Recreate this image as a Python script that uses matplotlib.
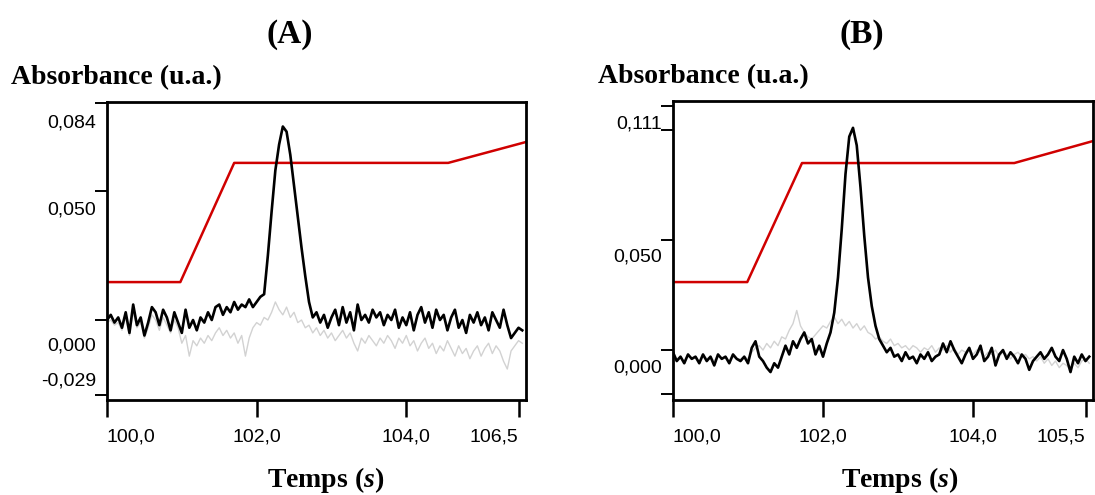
import numpy as np
import matplotlib
matplotlib.use("Agg")
import matplotlib.pyplot as plt
from matplotlib.transforms import offset_copy

# absorbance traces in thousandths (u.a. x 1000), one sample every 0.05 s from 100,0 s
a_black = [
    0, 2, -1, 1, -3, 3, -5, 6, -2, 1,
    -6, -1, 5, 3, -2, 4, 1, -4, 3, -1,
    -5, 4, -3, 0, -4, 1, -1, 3, 0, 5,
    6, 2, 5, 3, 7, 4, 6, 5, 8, 5,
    7, 9, 10, 25, 42, 58, 68, 75, 73, 64,
    52, 40, 28, 17, 7, 1, 3, -1, 2, -3,
    1, 4, -2, 5, -1, 3, -4, 6, 0, 2,
    -1, 4, 1, 3, -2, 2, 0, 4, -3, 1,
    -2, 3, -4, 2, 5, -1, 3, -3, 4, 0,
    2, -4, 1, 4, -3, 0, -5, 2, -1, 3,
    -2, 1, -4, 3, 0, -3, 4, -2, -7, -5,
    -3, -4]
a_gray = [
    -1, 0, -2, -1, -4, 1, -6, 3, -3, -1,
    -7, -3, 2, 0, -4, 1, -2, -5, 0, -3,
    -9, -6, -14, -8, -10, -7, -9, -6, -8, -5,
    -3, -6, -4, -7, -5, -9, -6, -14, -7, -3,
    -1, -2, 1, 0, 3, 7, 4, 2, 5, 1,
    3, -1, 0, -3, -2, -5, -3, -6, -4, -7,
    -5, -8, -6, -4, -7, -5, -9, -12, -7, -9,
    -6, -8, -10, -7, -9, -6, -8, -11, -7, -9,
    -6, -10, -8, -12, -9, -7, -11, -9, -13, -10,
    -12, -8, -11, -14, -10, -13, -11, -15, -12, -10,
    -14, -11, -9, -13, -10, -12, -16, -19, -12, -10,
    -8, -9]
b_black = [
    -1, -5, -3, -6, -2, -4, -3, -6, -2, -5,
    -3, -7, -2, -4, -3, -6, -2, -4, -5, -3,
    -6, 1, 4, -3, -5, -8, -10, -6, -8, -3,
    2, -2, 4, 1, 5, 8, 3, 5, -2, 2,
    -3, 3, 8, 17, 33, 55, 80, 97, 101, 93,
    74, 52, 33, 20, 11, 5, 2, -1, 1, -3,
    -2, -5, -1, -4, -3, -6, -2, -4, -1, -5,
    -3, -2, 3, -1, 4, 0, -3, -6, -2, 1,
    -4, -2, 2, -5, -3, 1, -7, -2, 0, -4,
    -1, -3, -6, -2, -4, -9, -5, -3, -1, -4,
    -2, 1, -3, -5, 0, -4, -10, -3, -6, -2,
    -5, -3]
b_gray = [
    -2, -4, -3, -5, -2, -4, -3, -5, -2, -4,
    -3, -5, -2, -4, -3, -5, -3, -4, -4, -3,
    -4, -1, 1, 2, 0, 3, 1, 4, 2, 6,
    5, 9, 12, 18, 11, 8, 6, 5, 7, 9,
    11, 10, 13, 15, 12, 14, 11, 13, 10, 12,
    9, 11, 8, 7, 5, 6, 4, 3, 5, 2,
    3, 1, 2, 0, 2, 1, -1, 1, 0, 2,
    -1, 1, 0, 2, -1, 1, -2, 0, -1, 1,
    -2, 0, -1, -3, -1, -2, 0, -3, -1, -2,
    -4, -2, -1, -3, -2, -4, -3, -5, -3, -6,
    -4, -7, -5, -8, -6, -7, -9, -6, -8, -5,
    -4, -6]

# red temperature program (break points)
a_red_t = [100.0, 100.98, 101.70, 104.56, 105.6]
a_red_y = [0.0147, 0.0147, 0.0609, 0.0609, 0.069]
b_red_t = [100.0, 100.99, 101.72, 104.55, 105.6]
b_red_y = [0.0309, 0.0309, 0.085, 0.085, 0.095]

x_ticks = [100.0, 102.0, 104.0, 105.5]
a_xlabels = ["100,0", "102,0", "104,0", "106,5"]
b_xlabels = ["100,0", "102,0", "104,0", "105,5"]
a_yticks = [0.084, 0.050, 0.000, -0.029]
a_ylabels = ["0,084", "0,050", "0,000", "-0,029"]
b_yticks = [0.111, 0.100, 0.050, 0.000, -0.020]
b_ylabels = ["0,111", "", "0,050", "0,000", ""]

plt.rcParams['mathtext.fontset'] = 'custom'
plt.rcParams['mathtext.rm'] = 'Liberation Serif:bold'
plt.rcParams['mathtext.it'] = 'Liberation Serif:italic:bold'

W, H = 1095, 495
fig = plt.figure(figsize=(W / 100, H / 100), dpi=100)
tick_font = dict(family=['Liberation Sans', 'DejaVu Sans'], fontsize=14)
serif = ['Liberation Serif', 'DejaVu Serif']


def panel(box, black, gray, red_t, red_y, ylim, yticks, ylabels, ydy, xlabels):
    l, t, r, b = box
    ax = fig.add_axes([l / W, 1 - b / H, (r - l) / W, (b - t) / H])
    tb = 100 + 0.05 * np.arange(len(black))
    tg = 100 + 0.05 * np.arange(len(gray))
    ax.plot(tg, np.array(gray) / 1000, color='#d2d2d2', lw=1.0, zorder=1)
    ax.plot(red_t, red_y, color='#d00000', lw=1.8, zorder=2)
    ax.plot(tb, np.array(black) / 1000, color='black', lw=1.9, zorder=3)
    ax.set_xlim(100, 105.6)
    ax.set_ylim(*ylim)
    for s in ax.spines.values():
        s.set_linewidth(2)
    ax.set_xticks(x_ticks)
    ax.set_yticks(yticks)
    ax.tick_params(axis='y', direction='out', length=8.5, width=1.4, labelleft=False)
    ax.tick_params(axis='x', direction='out', length=12, width=1.8, labelbottom=False)
    for v, lab, dy in zip(yticks, ylabels, ydy):
        tr = offset_copy(ax.get_yaxis_transform(), fig=fig, x=-8, y=dy, units='points')
        ax.text(0, v, lab, transform=tr, ha='right', va='center', **tick_font)
    has = ['left', 'center', 'center', 'right']
    for v, lab, ha in zip(x_ticks, xlabels, has):
        tr = offset_copy(ax.get_xaxis_transform(), fig=fig, y=-27, units='points')
        ax.text(v, 0, lab, transform=tr, ha=ha, va='center', **tick_font)
    return ax


panel((107, 102, 526, 400), a_black, a_gray, a_red_t, a_red_y,
      (-0.031, 0.0845), a_yticks, a_ylabels, [-14, -14, -19, 10], a_xlabels)
panel((673, 101, 1093, 400), b_black, b_gray, b_red_t, b_red_y,
      (-0.0227, 0.1132), b_yticks, b_ylabels, [-13, 0, -12, -13, 0], b_xlabels)

fig.text(290 / W, 1 - 35 / H, "(A)", ha='center', va='center',
         family=serif, weight='bold', fontsize=24)
fig.text(862 / W, 1 - 35 / H, "(B)", ha='center', va='center',
         family=serif, weight='bold', fontsize=24)
fig.text(11 / W, 1 - 78 / H, "Absorbance (u.a.)", ha='left', va='center',
         family=serif, weight='bold', fontsize=20)
fig.text(598 / W, 1 - 77 / H, "Absorbance (u.a.)", ha='left', va='center',
         family=serif, weight='bold', fontsize=20)
temps = r'$\mathrm{Temps\ (}\mathit{s}\mathrm{)}$'
fig.text(326 / W, 1 - 480 / H, temps, ha='center', va='center', fontsize=20)
fig.text(900 / W, 1 - 480 / H, temps, ha='center', va='center', fontsize=20)

fig.savefig("out.png", dpi=100)
